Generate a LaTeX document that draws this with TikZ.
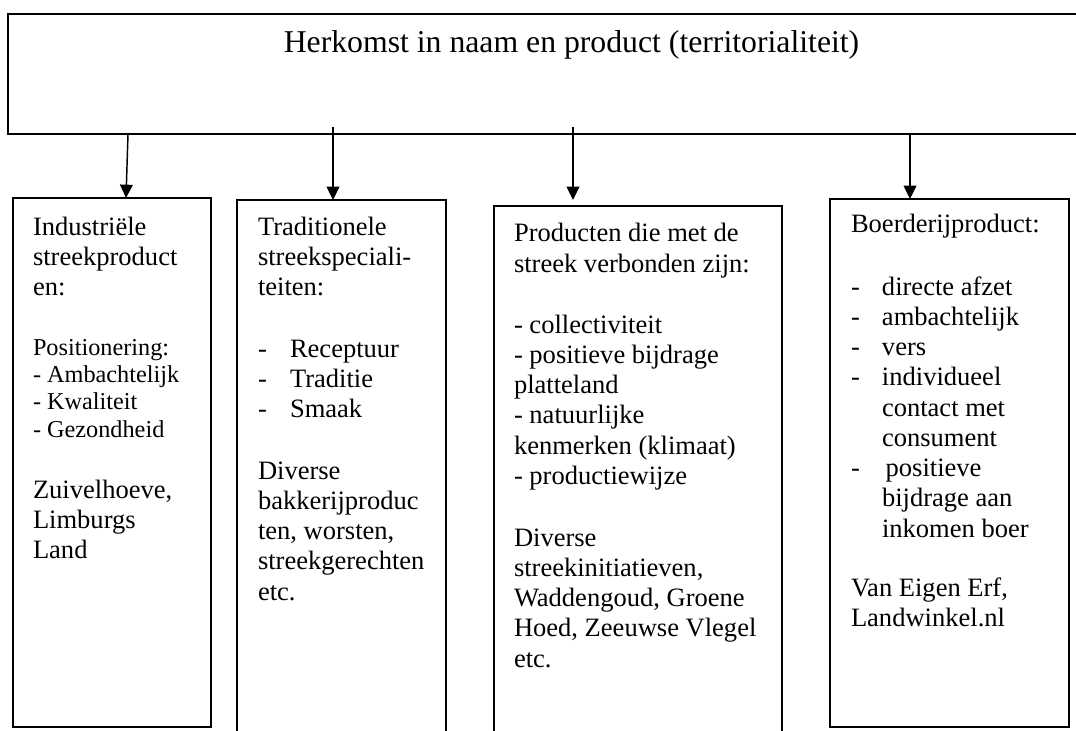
\documentclass[tikz,border=0pt]{standalone}
\usepackage{fontspec}
\setmainfont{Liberation Serif}
\usetikzlibrary{arrows.meta}
\newcommand\firstline{\rule{0pt}{15pt}}
\newcommand\dashcol[1]{\makebox[#1][l]{-}}
\begin{document}
\begin{tikzpicture}[x=0.75pt,y=-0.75pt,
  boxst/.style={draw,line width=1.1pt,inner sep=0pt,outer sep=0pt,anchor=north west},
  bodytext/.style={anchor=north west,inner sep=0pt,outer sep=0pt,align=left,font=\fontsize{19.9}{22.7}\selectfont},
  smalltext/.style={anchor=north west,inner sep=0pt,outer sep=0pt,align=left,font=\fontsize{18.2}{20.5}\selectfont},
  titletext/.style={anchor=base,inner sep=0pt,font=\fontsize{23.8}{27}\selectfont},
  arr/.style={line width=1.1pt,-{Triangle[length=10pt,width=9.5pt]}}]
\useasboundingbox[fill=white] (0,0) rectangle (1076,731);

% boxes
\node[boxst,minimum width=811.5pt,minimum height=90pt] (top) at (8,14) {};
\node[titletext] (title) at (571.5,53) {Herkomst in naam en product (territorialiteit)};
\node[boxst,minimum width=148.5pt,minimum height=396.75pt] (b1) at (13,198) {};
\node[boxst,minimum width=156.75pt,minimum height=410pt] (b2) at (237,200) {};
\node[boxst,minimum width=216pt,minimum height=410pt] (b3) at (494,206) {};
\node[boxst,minimum width=179.25pt,minimum height=396pt] (b4) at (830,199) {};

% box 1 text
\node[bodytext] (t1a) at (33,215) {\firstline Industriële\\streekproduct\\en:};
\node[smalltext] (t1b) at (33,335) {\firstline Positionering:\\- Ambachtelijk\\- Kwaliteit\\- Gezondheid};
\node[bodytext] (t1c) at (33,478) {\firstline Zuivelhoeve,\\Limburgs\\Land};

% box 2 text
\node[bodytext] (t2a) at (258,215) {\firstline Traditionele\\streekspeciali-\\teiten:};
\node[bodytext] (t2b) at (258,337) {\firstline\dashcol{24pt}Receptuur\\\dashcol{24pt}Traditie\\\dashcol{24pt}Smaak};
\node[bodytext] (t2c) at (258,459) {\firstline Diverse\\bakkerijproduc\\ten, worsten,\\streekgerechten\\etc.};

% box 3 text
\node[bodytext] (t3a) at (514,222) {\firstline Producten die met de\\streek verbonden zijn:};
\node[bodytext] (t3b) at (514,313) {\firstline - collectiviteit\\- positieve bijdrage\\platteland\\- natuurlijke\\kenmerken (klimaat)\\- productiewijze};
\node[bodytext] (t3c) at (514,526) {\firstline Diverse\\streekinitiatieven,\\Waddengoud, Groene\\Hoed, Zeeuwse Vlegel\\etc.};

% box 4 text
\node[bodytext] (t4a) at (851,213) {\firstline Boerderijproduct:};
\node[bodytext] (t4b) at (851,275) {\firstline\dashcol{23.25pt}directe afzet\\\dashcol{23.25pt}ambachtelijk\\\dashcol{23.25pt}vers\\\dashcol{23.25pt}individueel\\\hspace*{23.25pt}contact met\\\hspace*{23.25pt}consument\\\dashcol{26pt}positieve\\\hspace*{23.25pt}bijdrage aan\\\hspace*{23.25pt}inkomen boer};
\node[bodytext] (t4c) at (851,576) {\firstline Van Eigen Erf,\\Landwinkel.nl};

% connectors
\coordinate (s2) at (333,127);
\coordinate (s3) at (573,127);
\draw[arr] (top.south -| 128,0) -- (126,0 |- b1.north);
\draw[arr] (s2) -- (s2 |- b2.north);
\draw[arr,shorten >=4.5pt] (s3) -- (s3 |- b3.north);
\draw[arr] (top.south -| 910,0) -- (910,0 |- b4.north);
\end{tikzpicture}
\end{document}
